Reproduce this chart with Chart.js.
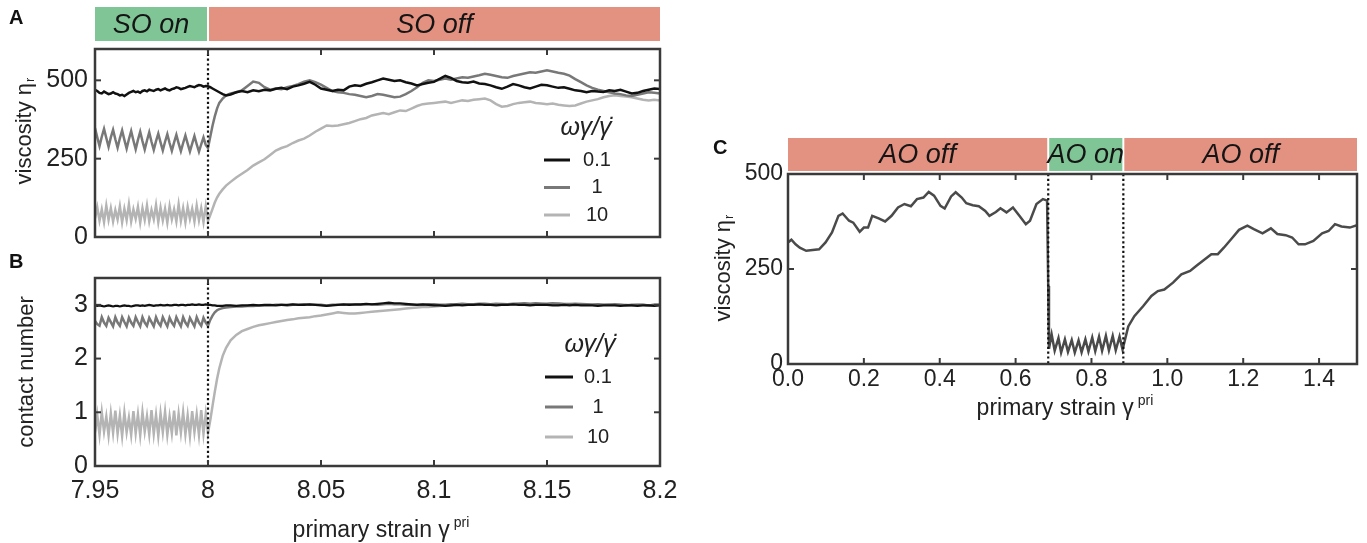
<!DOCTYPE html>
<html>
<head>
<meta charset="utf-8">
<script src="https://cdn.jsdelivr.net/npm/chart.js@4.4.1/dist/chart.umd.min.js"></script>
<style>
  html, body { margin: 0; padding: 0; background: #fff; }
  #fig { position: relative; width: 1367px; height: 543px; overflow: hidden; }
  #fig canvas { position: absolute; }
</style>
</head>
<body>
<div id="fig">
  <canvas id="panelA" width="670" height="245" style="left:0;top:0"></canvas>
  <canvas id="panelB" width="690" height="298" style="left:0;top:245px"></canvas>
  <canvas id="panelC" width="667" height="310" style="left:700px;top:120px"></canvas>
</div>
<script>
// ---- data ----

// strain grid while the secondary oscillation is on (7.95 .. 8.00)
const strainOn = [
  7.950, 7.951, 7.952, 7.953, 7.954, 7.955, 7.956, 7.957, 7.958, 7.959,
  7.960, 7.961, 7.962, 7.963, 7.964, 7.965, 7.966, 7.967, 7.968, 7.969,
  7.970, 7.971, 7.972, 7.973, 7.974, 7.975, 7.976, 7.977, 7.978, 7.979,
  7.980, 7.981, 7.982, 7.983, 7.984, 7.985, 7.986, 7.987, 7.988, 7.989,
  7.990, 7.991, 7.992, 7.993, 7.994, 7.995, 7.996, 7.997, 7.998, 7.999,
  8.000
];
// strain grid after it is switched off (8.00 .. 8.20)
const strainOff = [
  8.001, 8.002, 8.003, 8.004, 8.005, 8.0065, 8.008, 8.010, 8.0125, 8.015,
  8.0175, 8.020, 8.0225, 8.025, 8.0275, 8.030, 8.0325, 8.035, 8.0375, 8.040,
  8.0425, 8.045, 8.0475, 8.050, 8.0525, 8.055, 8.0575, 8.060, 8.0625, 8.065,
  8.0675, 8.070, 8.0725, 8.075, 8.0775, 8.080, 8.0825, 8.085, 8.0875, 8.090,
  8.0925, 8.095, 8.0975, 8.100, 8.1025, 8.105, 8.1075, 8.110, 8.1125, 8.115,
  8.1175, 8.120, 8.1225, 8.125, 8.1275, 8.130, 8.1325, 8.135, 8.1375, 8.140,
  8.1425, 8.145, 8.1475, 8.150, 8.1525, 8.155, 8.1575, 8.160, 8.1625, 8.165,
  8.1675, 8.170, 8.1725, 8.175, 8.1775, 8.180, 8.1825, 8.185, 8.1875, 8.190,
  8.1925, 8.195, 8.1975, 8.200
];

const seriesLabels = ['0.1', '1', '10'];
const seriesColors = ['#111111', '#787878', '#b4b4b4'];

// panel A: viscosity
const viscA01On = [
  470, 466, 460, 458, 464, 460, 456, 458, 462, 458,
  456, 452, 454, 450, 455, 460, 463, 466, 462, 464,
  460, 466, 468, 465, 470, 468, 466, 470, 472, 468,
  471, 474, 470, 468, 472, 474, 478, 476, 472, 474,
  476, 479, 482, 480, 478, 482, 485, 484, 480, 482,
  481
];
const viscA01Off = [
  478, 474, 470, 466, 462, 456, 452, 455, 462, 466,
  462, 468, 465, 470, 468, 473, 476, 472, 480, 484,
  489, 495, 486, 474, 470, 466, 470, 468, 480, 484,
  482, 489, 494, 500, 506, 502, 498, 500, 494, 490,
  484, 488, 492, 495, 505, 514, 508, 498, 494, 492,
  496, 490, 488, 484, 478, 473, 480, 488, 484, 478,
  474, 480, 486, 484, 480, 476, 478, 473, 468, 466,
  462, 466, 464, 463, 468, 466, 470, 464, 458, 460,
  466, 470, 474, 472
];
const viscA1On = [
  348, 318, 290, 320, 345, 316, 288, 318, 342, 312,
  285, 315, 340, 310, 282, 312, 338, 308, 280, 310,
  336, 306, 279, 308, 334, 304, 278, 306, 330, 302,
  276, 304, 328, 300, 275, 302, 326, 299, 274, 300,
  324, 298, 273, 298, 322, 296, 272, 296, 318, 294,
  284
];
const viscA1Off = [
  320, 355, 385, 410, 428, 442, 452, 458, 462, 468,
  482, 496, 492, 478, 470, 474, 472, 478, 482, 488,
  496, 500, 494, 486, 476, 466, 462, 460, 456, 454,
  450, 446, 450, 456, 454, 450, 446, 448, 456, 466,
  478, 492, 500, 498, 502, 506, 502, 506, 510, 508,
  512, 516, 521, 518, 514, 510, 508, 514, 518, 522,
  526, 524, 528, 532, 528, 524, 521, 515, 504, 494,
  484, 476, 470, 466, 462, 458, 456, 452, 450, 454,
  458, 462, 460, 458
];
const viscA10On = [
  60, 95, 52, 88, 48, 100, 55, 92, 50, 86,
  56, 98, 47, 90, 54, 104, 50, 88, 58, 96,
  46, 92, 55, 100, 50, 86, 57, 102, 48, 94,
  53, 90, 46, 98, 56, 88, 50, 104, 52, 92,
  47, 96, 58, 90, 50, 100, 54, 92, 48, 98,
  52
];
const viscA10Off = [
  70, 90, 110, 126, 138, 152, 164, 176, 190, 202,
  214, 228, 238, 248, 262, 276, 284, 290, 300, 308,
  314, 324, 336, 346, 356, 354, 356, 360, 364, 370,
  376, 380, 388, 392, 396, 392, 398, 404, 402, 410,
  418, 424, 426, 428, 430, 432, 428, 432, 436, 434,
  438, 440, 442, 436, 424, 416, 418, 424, 428, 430,
  432, 428, 426, 424, 426, 422, 420, 418, 420, 426,
  432, 436, 440, 446, 450, 452, 450, 448, 446, 442,
  438, 436, 438, 436
];

// panel B: contact number
const contactB01On = [
  2.99, 2.98, 2.99, 2.98, 2.97, 2.98, 2.99, 2.98, 2.97, 2.98,
  2.98, 2.97, 2.98, 2.99, 2.98, 2.98, 2.97, 2.98, 2.99, 2.99,
  2.98, 2.99, 2.98, 2.99, 3.00, 2.99, 2.98, 2.99, 2.99, 3.00,
  2.99, 2.99, 3.00, 2.99, 2.99, 3.00, 3.00, 2.99, 3.00, 3.00,
  2.99, 3.00, 3.00, 3.01, 3.00, 3.00, 3.01, 3.00, 3.00, 3.01,
  3.00
];
const contactB01Off = [
  3.00, 2.99, 2.99, 2.98, 2.98, 2.98, 2.99, 2.99, 2.98, 2.99,
  2.99, 3.00, 2.99, 3.00, 3.00, 2.99, 3.00, 3.00, 3.01, 3.00,
  3.00, 3.01, 3.00, 2.99, 2.98, 2.99, 3.00, 3.01, 3.00, 3.01,
  3.01, 3.02, 3.01, 3.02, 3.03, 3.04, 3.03, 3.03, 3.02, 3.01,
  3.00, 3.01, 3.00, 2.99, 2.99, 2.98, 2.99, 3.00, 2.99, 3.00,
  3.00, 3.01, 3.00, 3.00, 2.99, 3.00, 3.00, 3.01, 3.00, 3.00,
  2.99, 3.00, 3.00, 3.00, 2.99, 2.99, 3.00, 2.99, 3.00, 2.99,
  2.99, 2.99, 2.98, 2.99, 2.99, 2.99, 2.98, 2.99, 2.99, 2.98,
  2.99, 2.99, 2.98, 2.99
];
const contactB1On = [
  2.70, 2.64, 2.61, 2.77, 2.67, 2.61, 2.76, 2.68, 2.60, 2.77,
  2.67, 2.61, 2.77, 2.68, 2.60, 2.76, 2.67, 2.61, 2.77, 2.68,
  2.60, 2.77, 2.67, 2.61, 2.76, 2.68, 2.60, 2.77, 2.67, 2.61,
  2.77, 2.68, 2.60, 2.76, 2.67, 2.61, 2.77, 2.68, 2.60, 2.77,
  2.67, 2.61, 2.76, 2.68, 2.60, 2.77, 2.67, 2.61, 2.76, 2.67,
  2.61
];
const contactB1Off = [
  2.72, 2.80, 2.86, 2.90, 2.92, 2.94, 2.95, 2.96, 2.97, 2.97,
  2.98, 2.98, 2.99, 2.99, 2.99, 3.00, 3.00, 2.99, 3.00, 3.00,
  3.01, 3.00, 3.00, 3.00, 2.99, 3.00, 3.00, 3.00, 3.01, 3.00,
  3.00, 3.01, 3.01, 3.00, 3.01, 3.02, 3.01, 3.01, 3.00, 3.00,
  3.00, 3.00, 3.01, 3.01, 3.00, 3.00, 3.01, 3.01, 3.02, 3.01,
  3.01, 3.02, 3.02, 3.01, 3.02, 3.01, 3.01, 3.02, 3.02, 3.03,
  3.02, 3.03, 3.02, 3.02, 3.03, 3.02, 3.01, 3.01, 3.02, 3.01,
  3.01, 3.00, 3.01, 3.00, 3.00, 3.01, 3.00, 2.99, 3.00, 3.00,
  3.00, 2.99, 3.00, 3.00
];
const contactB10On = [
  0.62, 0.95, 0.58, 1.00, 0.64, 0.92, 0.57, 0.98, 0.62, 1.03,
  0.60, 0.94, 0.56, 0.99, 0.63, 0.90, 0.58, 1.02, 0.61, 0.96,
  0.57, 1.00, 0.64, 0.93, 0.59, 1.04, 0.60, 0.95, 0.56, 0.98,
  0.63, 1.01, 0.58, 0.92, 0.61, 1.03, 0.57, 0.97, 0.62, 1.00,
  0.59, 0.94, 0.56, 1.02, 0.63, 0.96, 0.58, 1.04, 0.60, 0.97,
  0.62
];
const contactB10Off = [
  0.85, 1.12, 1.38, 1.62, 1.82, 2.05, 2.20, 2.34, 2.44, 2.51,
  2.55, 2.59, 2.62, 2.64, 2.66, 2.68, 2.70, 2.72, 2.73, 2.75,
  2.76, 2.77, 2.79, 2.80, 2.82, 2.84, 2.86, 2.85, 2.84, 2.84,
  2.85, 2.86, 2.87, 2.88, 2.89, 2.90, 2.91, 2.92, 2.93, 2.94,
  2.95, 2.96, 2.96, 2.97, 2.98, 2.99, 2.99, 3.00, 3.00, 3.01,
  3.00, 3.01, 3.01, 3.00, 3.01, 3.02, 3.01, 3.01, 3.02, 3.02,
  3.01, 3.02, 3.02, 3.01, 3.02, 3.03, 3.02, 3.02, 3.01, 3.02,
  3.01, 3.01, 3.00, 3.00, 3.01, 3.00, 3.00, 3.00, 2.99, 3.00,
  3.00, 2.99, 3.00, 3.00
];

// panel C: viscosity under alternating AO off/on/off
const strainC = [
  0, 0.009, 0.02, 0.031, 0.048, 0.065, 0.082, 0.099, 0.116, 0.133,
  0.144, 0.161, 0.172, 0.189, 0.2, 0.211, 0.222, 0.239, 0.256, 0.273,
  0.29, 0.307, 0.324, 0.34, 0.357, 0.371, 0.385, 0.402, 0.413, 0.43,
  0.442, 0.458, 0.47, 0.487, 0.503, 0.52, 0.531, 0.548, 0.56, 0.576,
  0.593, 0.61, 0.627, 0.638, 0.655, 0.672, 0.683, 0.686, 0.688, 0.695,
  0.703, 0.713, 0.72, 0.73, 0.738, 0.748, 0.756, 0.766, 0.774, 0.784,
  0.792, 0.802, 0.81, 0.82, 0.828, 0.838, 0.846, 0.856, 0.864, 0.874,
  0.882, 0.897, 0.913, 0.936, 0.958, 0.975, 0.992, 1.015, 1.037, 1.06,
  1.076, 1.093, 1.116, 1.133, 1.149, 1.172, 1.189, 1.211, 1.228, 1.251,
  1.273, 1.29, 1.312, 1.329, 1.346, 1.363, 1.385, 1.408, 1.425, 1.442,
  1.459, 1.481, 1.5
];
const viscC = [
  320, 327, 315, 306, 298, 300, 302, 320, 346, 390,
  396, 377, 372, 348, 359, 359, 390, 383, 375, 390,
  412, 421, 415, 434, 438, 453, 443, 416, 409, 441,
  452, 438, 423, 418, 415, 403, 390, 400, 410, 399,
  412, 390, 368, 377, 421, 434, 430, 205, 40, 78,
  35, 68, 30, 65, 32, 63, 30, 62, 31, 65,
  33, 70, 34, 72, 35, 74, 36, 74, 36, 72,
  38, 99, 126, 152, 179, 192, 196, 214, 236, 245,
  258, 271, 289, 289, 306, 333, 353, 364, 355, 344,
  357, 342, 339, 333, 315, 315, 324, 344, 350, 368,
  362, 359, 365
];

// axes ticks
const strainTicksAB = [7.95, 8, 8.05, 8.1, 8.15, 8.2];
const strainLabelsAB = ['7.95', '8', '8.05', '8.1', '8.15', '8.2'];
const viscTicks = [0, 250, 500];
const viscLabels = ['0', '250', '500'];
const contactTicks = [0, 1, 2, 3];
const contactLabels = ['0', '1', '2', '3'];
const strainTicksC = [0, 0.2, 0.4, 0.6, 0.8, 1.0, 1.2, 1.4];
const strainLabelsC = ['0.0', '0.2', '0.4', '0.6', '0.8', '1.0', '1.2', '1.4'];

// on/off phases
const bandEdgesAB = [7.95, 8.0, 8.2];
const bandLabelsAB = ['SO on', 'SO off'];
const bandEdgesC = [0, 0.686, 0.884, 1.5];
const bandLabelsC = ['AO off', 'AO on', 'AO off'];
const ON_COLOR = '#80c596';
const OFF_COLOR = '#e39181';

// ---- drawing helpers ----
const FONT = '"Liberation Sans", Arial, sans-serif';
const TEXT = '#222';

const pts = (xs, ys) => xs.map((x, i) => ({ x: x, y: ys[i] }));

// text with a raised / lowered small part, centred on (x, y)
function drawRich(ctx, parts, x, y) {
  let total = 0;
  parts.forEach(p => { ctx.font = p.font; total += ctx.measureText(p.t).width + (p.gap || 0); });
  let cx = x - total / 2;
  ctx.textAlign = 'left';
  parts.forEach(p => {
    ctx.font = p.font;
    cx += p.gap || 0;
    ctx.fillText(p.t, cx, y + (p.dy || 0));
    cx += ctx.measureText(p.t).width;
  });
}

function line(ctx, x0, y0, x1, y1) {
  ctx.beginPath(); ctx.moveTo(x0, y0); ctx.lineTo(x1, y1); ctx.stroke();
}

const panelDeco = {
  id: 'panelDeco',
  afterDraw(chart, args, o) {
    const ctx = chart.ctx, area = chart.chartArea;
    const xs = chart.scales.x, ys = chart.scales.y;
    ctx.save();

    // phase bands above the plot
    if (o.bands) {
      const b = o.bands, n = b.labels.length;
      for (let i = 0; i < n; i++) {
        const x0 = xs.getPixelForValue(b.edges[i]) + (i > 0 ? 1 : 0);
        const x1 = xs.getPixelForValue(b.edges[i + 1]) - (i < n - 1 ? 1 : 0);
        const top = area.top - b.offset - b.height;
        ctx.fillStyle = b.labels[i].endsWith('on') ? ON_COLOR : OFF_COLOR;
        ctx.fillRect(x0, top, x1 - x0, b.height);
        ctx.fillStyle = '#151515';
        ctx.font = 'italic 27px ' + FONT;
        ctx.textAlign = 'center';
        ctx.textBaseline = 'middle';
        ctx.fillText(b.labels[i], (x0 + x1) / 2, top + b.height / 2 + 1);
      }
    }

    // dotted switch lines
    ctx.strokeStyle = '#111';
    ctx.lineWidth = 2.2;
    ctx.setLineDash([2.2, 2.6]);
    (o.switches || []).forEach(v => {
      const px = xs.getPixelForValue(v);
      line(ctx, px, area.top, px, area.bottom);
    });
    ctx.setLineDash([]);

    // frame and inward ticks
    ctx.strokeStyle = '#3a3a3a';
    ctx.lineWidth = 2.5;
    ctx.strokeRect(area.left, area.top, area.right - area.left, area.bottom - area.top);
    ctx.lineWidth = 2;
    const L = 6;
    xs.ticks.forEach(t => {
      const px = xs.getPixelForValue(t.value);
      if (px < area.left + 2 || px > area.right - 2) return;
      line(ctx, px, area.bottom, px, area.bottom - L);
      line(ctx, px, area.top, px, area.top + L);
    });
    ys.ticks.forEach(t => {
      const py = ys.getPixelForValue(t.value);
      if (py < area.top + 2 || py > area.bottom - 2) return;
      line(ctx, area.left, py, area.left + L, py);
      line(ctx, area.right, py, area.right - L, py);
    });

    ctx.fillStyle = TEXT;
    ctx.textBaseline = 'alphabetic';

    // legend
    if (o.legend) {
      const lg = o.legend;
      ctx.fillStyle = TEXT;
      ctx.font = 'italic 25px ' + FONT;
      ctx.textAlign = 'center';
      ctx.textBaseline = 'middle';
      ctx.fillText('\u03c9\u03b3/\u03b3\u0307', lg.headX, lg.headY);
      chart.data.datasets.forEach((ds, i) => {
        const y = lg.y0 + i * lg.dy;
        ctx.strokeStyle = ds.borderColor;
        ctx.lineWidth = 3;
        line(ctx, lg.lineX0, y, lg.lineX1, y);
        ctx.fillStyle = TEXT;
        ctx.font = '20px ' + FONT;
        ctx.textAlign = 'center';
        ctx.fillText(ds.label, lg.textX, y);
      });
    }

    // panel letter
    ctx.fillStyle = '#111';
    ctx.font = 'bold 20px ' + FONT;
    ctx.textAlign = 'left';
    ctx.textBaseline = 'alphabetic';
    ctx.fillText(o.letter.t, o.letter.x, o.letter.y);

    // y title (rotated)
    ctx.fillStyle = TEXT;
    ctx.textBaseline = 'middle';
    ctx.save();
    ctx.translate(o.yTitle.x, o.yTitle.y);
    ctx.rotate(-Math.PI / 2);
    if (o.yTitle.sub) {
      drawRich(ctx, [
        { t: o.yTitle.t, font: '22px ' + FONT },
        { t: o.yTitle.sub, font: '13px ' + FONT, dy: 5, gap: 1 }
      ], 0, 0);
    } else {
      drawRich(ctx, [{ t: o.yTitle.t, font: '22px ' + FONT }], 0, 0);
    }
    ctx.restore();

    // x title
    if (o.xTitle) {
      ctx.textBaseline = 'alphabetic';
      drawRich(ctx, [
        { t: 'primary strain \u03b3', font: '23px ' + FONT },
        { t: 'pri', font: '14px ' + FONT, dy: -10, gap: 4 }
      ], o.xTitle.x, o.xTitle.y);
    }
    ctx.restore();
  }
};

function makePanel(id, cfg) {
  return new Chart(document.getElementById(id), {
    type: 'line',
    data: { datasets: cfg.datasets },
    options: {
      responsive: false,
      animation: false,
      layout: { padding: cfg.padding },
      elements: { point: { radius: 0 }, line: { tension: 0 } },
      plugins: {
        legend: { display: false },
        tooltip: { enabled: false },
        panelDeco: cfg.deco
      },
      scales: {
        x: {
          type: 'linear',
          min: cfg.x.min,
          max: cfg.x.max,
          afterBuildTicks: s => { s.ticks = cfg.x.ticks.map(v => ({ value: v })); },
          afterFit: s => { s.height = cfg.x.height; s.paddingLeft = 0; s.paddingRight = 0; },
          grid: { display: false, drawTicks: false },
          border: { display: false },
          ticks: {
            display: !!cfg.x.labels,
            autoSkip: false,
            maxRotation: 0,
            padding: cfg.x.pad || 0,
            color: TEXT,
            font: { family: FONT, size: cfg.x.font || 25 },
            callback: (v, i) => cfg.x.labels ? cfg.x.labels[i] : ''
          }
        },
        y: {
          type: 'linear',
          min: cfg.y.min,
          max: cfg.y.max,
          afterBuildTicks: s => { s.ticks = cfg.y.ticks.map(v => ({ value: v })); },
          afterFit: s => { s.width = cfg.y.width; s.paddingTop = 0; s.paddingBottom = 0; },
          grid: { display: false, drawTicks: false },
          border: { display: false },
          ticks: {
            autoSkip: false,
            padding: cfg.y.pad,
            color: TEXT,
            font: { family: FONT, size: cfg.y.font || 25 },
            callback: (v, i) => cfg.y.labels[i]
          }
        }
      }
    },
    plugins: [panelDeco]
  });
}

function abDatasets(on, off, widths) {
  return on.map((s, i) => ({
    label: seriesLabels[i],
    data: pts(strainOn.concat(strainOff), s.concat(off[i])),
    borderColor: seriesColors[i],
    borderWidth: widths[i]
  }));
}

// ---- panel A ----
makePanel('panelA', {
  padding: { top: 49, right: 10, left: 0, bottom: 0 },
  datasets: abDatasets([viscA01On, viscA1On, viscA10On], [viscA01Off, viscA1Off, viscA10Off], [2.5, 2.5, 2.5]),
  x: { min: 7.95, max: 8.2, ticks: strainTicksAB, labels: null, height: 8 },
  y: { min: 0, max: 600, ticks: viscTicks, labels: viscLabels, width: 95, pad: 7 },
  deco: {
    bands: { edges: bandEdgesAB, labels: bandLabelsAB, offset: 8, height: 34 },
    switches: [8.0],
    legend: { headX: 586, headY: 128, y0: 160, dy: 27.5, lineX0: 544, lineX1: 570, textX: 597 },
    letter: { t: 'A', x: 9, y: 24 },
    yTitle: { t: 'viscosity \u03b7', sub: 'r', x: 25, y: 131 }
  }
});

// ---- panel B ----
makePanel('panelB', {
  padding: { top: 33, right: 30, left: 0, bottom: 0 },
  datasets: abDatasets([contactB01On, contactB1On, contactB10On], [contactB01Off, contactB1Off, contactB10Off], [2.2, 2.5, 2.5]),
  x: { min: 7.95, max: 8.2, ticks: strainTicksAB, labels: strainLabelsAB, height: 77, pad: 10 },
  y: { min: 0, max: 3.5, ticks: contactTicks, labels: contactLabels, width: 95, pad: 7 },
  deco: {
    switches: [8.0],
    legend: { headX: 590, headY: 100, y0: 132, dy: 30, lineX0: 545, lineX1: 573, textX: 598 },
    letter: { t: 'B', x: 9, y: 23 },
    yTitle: { t: 'contact number', x: 27, y: 127 },
    xTitle: { x: 381, y: 292 }
  }
});

// ---- panel C ----
makePanel('panelC', {
  padding: { top: 54, right: 10, left: 0, bottom: 0 },
  datasets: [{
    label: 'viscosity',
    data: pts(strainC, viscC),
    borderColor: '#4a4a4a',
    borderWidth: 2.5
  }],
  x: { min: 0, max: 1.5, ticks: strainTicksC, labels: strainLabelsC, height: 66, pad: 2, font: 23 },
  y: { min: 0, max: 500, ticks: viscTicks, labels: viscLabels, width: 88, pad: 5, font: 23 },
  deco: {
    bands: { edges: bandEdgesC, labels: bandLabelsC, offset: 3, height: 33 },
    switches: [0.686, 0.884],
    letter: { t: 'C', x: 13, y: 34 },
    yTitle: { t: 'viscosity \u03b7', sub: 'r', x: 24, y: 148 },
    xTitle: { x: 365, y: 295 }
  }
});
</script>
</body>
</html>
